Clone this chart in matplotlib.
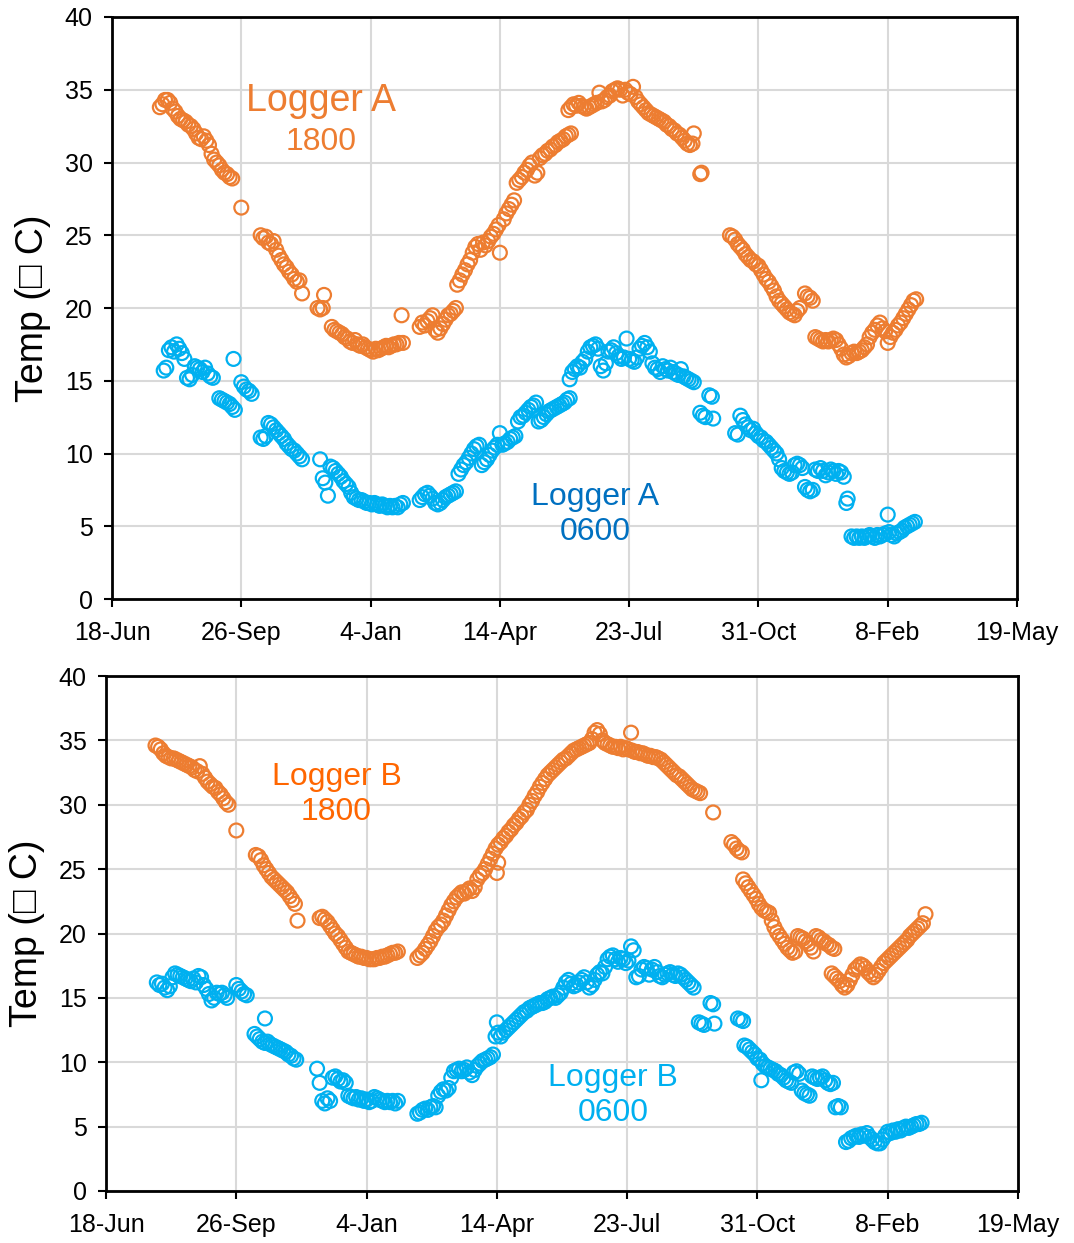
import matplotlib
matplotlib.use("Agg")
import matplotlib.pyplot as plt

plt.rcParams['font.family'] = ['Liberation Sans', 'DejaVu Sans']

# x axis: days after 18-Jun (ticks every 100 days)
tick_days = [0, 100, 200, 300, 400, 500, 600, 700]
tick_labels = ['18-Jun', '26-Sep', '4-Jan', '14-Apr', '23-Jul', '31-Oct', '8-Feb', '19-May']

# ---------------- Logger A, 1800 ----------------
a18_day = [37, 39, 41, 43, 45, 47, 49, 51, 53, 55, 57, 59, 61, 63, 65, 67, 69, 71, 73, 75, 77, 79, 81, 83, 85, 87, 89, 91, 93,
           100,
           115, 117, 119, 121, 123, 125, 127, 129, 131, 133, 135, 137, 139, 141, 143, 145, 147,
           159, 161, 163, 164,
           170, 172, 174, 176, 178, 180, 182, 184, 186, 188, 190, 192, 194, 196, 198, 200, 202, 204, 206, 208, 210,
           212, 214, 216, 218, 220, 222, 224, 225,
           238, 240, 242, 244, 246, 248, 250, 252, 254, 256, 258, 260, 262, 264, 266,
           267, 269, 271, 273, 275, 277, 279, 281, 283, 285, 287, 289, 291, 293, 295, 297, 299, 300, 303, 305, 307,
           309, 311,
           313, 315, 317, 319, 321, 323, 325, 327, 329, 331, 333, 335, 337, 339, 341, 343, 345, 347, 349, 351, 353, 355,
           353, 355, 357, 359, 361, 363, 365, 367, 369, 371, 373, 375, 377, 379, 381, 383, 385, 387, 389, 391, 393,
           395, 397, 399, 401, 403, 405, 407, 409, 411, 413, 415, 417, 419, 421, 423, 425, 427, 429, 431, 433, 435,
           437, 439, 441, 443, 445, 447, 449, 450, 455, 456,
           478, 480, 482, 484, 486, 488, 490, 492, 494, 496, 498, 500, 502, 504, 506, 508, 510, 512, 514, 516, 518,
           520, 522, 524, 526, 528, 530, 532, 536, 538, 540, 542,
           544, 546, 548, 550, 552, 554, 556, 558, 560, 562, 564, 566, 568, 570, 572, 574, 576, 578, 580, 582, 584,
           586, 588, 590, 592, 594, 596, 598, 600, 602, 604, 606, 608, 610, 612, 614, 616, 618, 620, 622]
a18_temp = [33.8, 34.0, 34.3, 34.3, 34.1, 33.7, 33.5, 33.2, 33.0, 32.9, 32.8, 32.6, 32.5, 32.3, 32.0, 31.7, 31.6, 31.8,
            31.5, 31.2, 30.6, 30.2, 30.0, 29.8, 29.5, 29.3, 29.2, 29.0, 28.9,
            26.9,
            25.0, 24.8, 24.9, 24.5, 24.4, 24.6, 24.0, 23.6, 23.3, 23.0, 22.8, 22.5, 22.3, 22.0, 21.8, 21.9, 21.0,
            20.0, 19.9, 20.0, 20.9,
            18.7, 18.5, 18.4, 18.3, 18.2, 18.0, 17.9, 17.7, 17.6, 17.8, 17.5, 17.4, 17.5, 17.3, 17.2, 17.1, 17.0, 17.2,
            17.1, 17.2, 17.3, 17.4, 17.3, 17.4, 17.5, 17.5, 17.6, 19.5, 17.6,
            18.7, 19.0, 18.8, 19.1, 19.3, 19.5, 18.5, 18.3, 18.6, 18.9, 19.2, 19.5, 19.6, 19.8, 20.0,
            21.6, 21.9, 22.3, 22.6, 23.0, 23.3, 23.8, 24.2, 24.4, 24.0, 24.5, 24.3, 24.6, 24.9, 25.1, 25.4, 25.7, 23.8,
            26.1, 26.5, 26.8, 27.1, 27.4,
            28.6, 28.8, 29.0, 29.3, 29.5, 29.8, 30.0, 29.1, 29.3, 30.3, 30.5, 30.6, 30.8, 30.9, 31.1, 31.2, 31.4, 31.5,
            31.6, 31.8, 31.9, 32.0,
            33.6, 33.8, 34.0, 33.9, 34.1, 33.9, 33.8, 33.7, 33.8, 33.9, 34.0, 34.1, 34.8, 34.2, 34.3, 34.5, 34.6, 34.9,
            35.0, 35.1, 35.0, 34.6, 35.0, 34.8, 34.7, 35.2, 34.5, 34.2, 34.0, 33.8, 33.6, 33.4, 33.3, 33.2, 33.1, 33.0,
            32.9, 32.8, 32.6, 32.5, 32.3, 32.2, 32.0, 31.9, 31.7, 31.5, 31.3, 31.2, 31.3, 32.0, 29.2, 29.3,
            25.0, 24.9, 24.7, 24.4, 24.2, 24.0, 23.7, 23.5, 23.3, 23.2, 23.0, 22.9, 22.6, 22.3, 22.0, 21.8, 21.5, 21.2,
            20.8, 20.5, 20.3, 20.1, 19.9, 19.7, 19.6, 19.5, 19.8, 20.0, 21.0, 20.8, 20.7, 20.5,
            18.0, 17.9, 17.8, 17.7, 17.8, 17.7, 17.8, 17.9, 17.8, 17.5, 17.2, 16.8, 16.6, 16.7, 16.9, 17.0, 16.9, 17.0,
            17.1, 17.3, 17.5, 18.0, 18.3, 18.5, 18.8, 19.0, 18.6, 18.4, 17.6, 18.0, 18.3, 18.5, 18.8, 19.0, 19.3, 19.6,
            19.9, 20.2, 20.5, 20.6]

# ---------------- Logger A, 0600 ----------------
a06_day = [40, 42, 44, 46, 48, 50, 52, 54, 56, 58, 60, 62, 64, 66, 68, 70, 72, 74, 76, 78,
           94,
           83, 85, 87, 89, 91, 93, 95,
           100, 102, 104, 106, 108,
           115, 117, 119, 121, 123, 125, 127, 129, 131, 133, 135, 137, 139, 141, 143, 145, 147,
           161, 163, 165, 167, 169, 171, 173, 175, 177, 179, 181, 183, 185, 187, 189, 191, 193, 195, 197, 199, 201,
           203, 205, 207, 209, 211, 213, 215, 217, 219, 221, 223, 225,
           238, 240, 242, 244, 246, 248, 250, 252, 254, 256, 258, 260, 262, 264, 266,
           268, 270, 272, 274, 276, 278, 280, 282, 284, 286, 288, 290, 292, 294, 296, 298, 300, 302, 304, 306, 308,
           310, 312,
           314, 316, 318, 320, 322, 324, 326, 328, 330, 332, 334, 336, 338, 340, 342, 344, 346, 348, 350, 352, 354,
           354, 356, 358, 360, 362, 364, 366, 368, 370, 372, 374, 376, 378, 380, 382, 384, 386, 388, 390, 392, 394,
           396, 398, 400, 402, 404, 406, 408, 410, 412, 414, 416, 418, 420, 422, 424, 426, 428, 430, 432, 434, 436,
           438, 440, 442, 444, 446, 448, 450,
           455, 457, 459, 462, 464, 465,
           482, 484, 486, 488, 490, 492, 494, 496, 498, 500, 502, 504, 506, 508, 510, 512, 514, 516, 518, 520, 522,
           524, 526, 528, 530, 532, 534, 536, 538, 540, 542, 544, 546, 548, 550, 552, 554, 556, 558, 560, 562, 564,
           566, 568, 569,
           572, 574, 576, 578, 580, 582, 584, 586, 588, 590, 592, 594, 596, 598, 600, 601, 603, 605, 607, 609, 611,
           613, 615, 617, 619, 621]
a06_temp = [15.7, 15.9, 17.1, 17.3, 17.0, 17.5, 17.2, 16.9, 16.5, 15.2, 15.1, 15.4, 16.0, 15.9, 15.8, 15.6, 15.9, 15.5,
            15.3, 15.2,
            16.5,
            13.8, 13.7, 13.6, 13.5, 13.4, 13.2, 13.0,
            14.9, 14.6, 14.4, 14.3, 14.1,
            11.1, 11.0, 11.2, 12.1, 12.0, 11.8, 11.6, 11.4, 11.2, 11.0, 10.7, 10.5, 10.3, 10.2, 10.0, 9.8, 9.6,
            9.6, 8.3, 8.0, 7.1, 9.1, 9.0, 8.8, 8.6, 8.4, 8.1, 7.9, 7.7, 7.3, 7.0, 6.9, 6.8, 6.8, 6.7, 6.6, 6.6, 6.5,
            6.6, 6.5, 6.4, 6.5, 6.4, 6.3, 6.4, 6.3, 6.4, 6.3, 6.5, 6.6,
            6.8, 7.0, 7.2, 7.3, 7.1, 6.9, 6.6, 6.5, 6.6, 6.8, 7.0, 7.1, 7.2, 7.3, 7.4,
            8.6, 8.9, 9.2, 9.4, 9.7, 10.0, 10.3, 10.5, 10.6, 9.2, 9.4, 9.6, 9.9, 10.2, 10.4, 10.6, 11.4, 10.6, 10.7,
            10.8, 11.0, 11.1, 11.2,
            12.2, 12.5, 12.6, 12.8, 13.0, 13.2, 13.3, 13.5, 12.2, 12.3, 12.5, 12.7, 12.9, 13.0, 13.1, 13.2, 13.3, 13.4,
            13.5, 13.7, 13.8,
            15.1, 15.6, 15.8, 16.0, 15.9, 16.3, 16.5, 17.0, 17.3, 17.4, 17.5, 17.2, 16.0, 15.7, 16.2, 17.0, 17.1, 17.3,
            16.9, 16.7, 16.5, 16.6, 17.9, 16.5, 16.4, 16.3, 16.6, 17.2, 17.4, 17.6, 17.3, 17.0, 16.2, 15.9, 15.8, 15.6,
            16.0, 15.8, 15.7, 15.9, 15.6, 15.5, 15.4, 15.8, 15.3, 15.2, 15.1, 15.0, 14.9,
            12.8, 12.6, 12.5, 14.0, 13.9, 12.4,
            11.4, 11.3, 12.6, 12.3, 12.0, 11.8, 11.6, 11.7, 11.4, 11.2, 11.1, 10.9, 10.8, 10.6, 10.4, 10.2, 10.0, 9.6,
            9.0, 8.8, 8.7, 8.6, 8.7, 9.2, 9.3, 9.2, 9.0, 7.7, 7.5, 7.4, 7.5, 8.9, 8.8, 9.0, 8.8, 8.5, 8.7, 8.9, 8.8,
            8.6, 8.8, 8.7, 8.4, 6.6, 6.9,
            4.3, 4.2, 4.3, 4.2, 4.3, 4.2, 4.3, 4.4, 4.3, 4.2, 4.4, 4.3, 4.4, 4.5, 5.8, 4.6, 4.4, 4.3, 4.5, 4.6, 4.7,
            4.9, 5.0, 5.1, 5.2, 5.3]

# ---------------- Logger B, 1800 ----------------
b18_day = [38, 40, 42, 44, 46, 48, 50, 52, 54, 56, 58, 60, 62, 64, 66, 68, 70, 72, 74, 76, 78, 80, 82, 84, 86, 88,
           90, 92, 94,
           100,
           115, 117, 119, 121, 123, 125, 127, 129, 131, 133, 135, 137, 139, 141, 143, 145, 147,
           164, 166, 168, 170, 172, 174, 176, 178, 180, 182, 184, 186, 188, 190, 192, 194, 196, 198, 200, 202, 204,
           206, 208, 210, 212, 214, 216, 218, 220, 222, 224,
           239, 241, 243, 245, 247, 249, 251, 253, 255, 257, 259, 261, 263, 265, 267, 269, 271, 273, 275, 277, 279,
           281, 283, 285, 287, 289, 291, 293, 295, 297, 300, 301,
           299, 301, 303, 305, 307, 309, 311, 313, 315, 317, 319, 321, 323, 325, 327, 329, 331, 333, 335, 337, 339,
           341, 343, 345, 347, 349, 351, 353, 355, 357, 359, 361, 363, 365, 367, 369, 371, 373, 375, 377, 379, 381,
           383, 385, 387, 389, 391, 393, 395, 397, 399, 401, 403,
           404, 406, 408, 410, 412, 414, 416, 418, 420, 422, 424, 426, 428, 430, 432, 434, 436, 438, 440, 442, 444,
           446, 448, 450, 452, 454, 456, 466,
           480, 482, 484, 486, 488,
           489, 491, 493, 495, 497, 499, 501, 503, 505, 507, 509, 511, 513, 515, 517, 519, 521, 523, 525, 527, 529,
           531, 533, 535, 537, 539, 541, 543, 545, 547, 549, 551, 553, 555, 557, 559,
           557, 559, 561, 563, 565, 567, 569, 571, 573, 575, 577, 579, 581, 583, 585, 587, 589, 591, 593, 595, 597,
           599, 601, 603, 605, 607, 609, 611, 613, 615, 617, 619, 621, 623, 625, 627, 629]
b18_temp = [34.6, 34.5, 34.3, 34.0, 33.8, 33.7, 33.6, 33.6, 33.5, 33.4, 33.3, 33.2, 33.1, 33.0, 32.9, 32.7, 32.6,
            33.0, 32.4, 32.1, 31.8, 31.6, 31.4, 31.3, 31.0, 30.8, 30.5, 30.2, 30.0,
            28.0,
            26.1, 26.0, 25.7, 25.3, 25.0, 24.7, 24.4, 24.2, 24.0, 23.8, 23.6, 23.4, 23.2, 22.9, 22.6, 22.3, 21.0,
            21.2, 21.3, 21.1, 20.9, 20.6, 20.3, 20.0, 19.8, 19.5, 19.2, 18.9, 18.6, 18.5, 18.4, 18.3, 18.2, 18.2, 18.1,
            18.1, 18.0, 18.0, 18.0, 18.1, 18.1, 18.2, 18.2, 18.3, 18.4, 18.5, 18.5, 18.6,
            18.1, 18.3, 18.5, 18.8, 19.1, 19.4, 19.8, 20.2, 20.5, 20.7, 21.0, 21.4, 21.8, 22.2, 22.5, 22.8, 23.0, 23.2,
            23.1, 23.3, 23.5, 23.3, 23.6, 24.2, 24.5, 24.7, 25.0, 25.4, 25.8, 26.2, 24.7, 25.5,
            26.6, 26.9, 27.1, 27.4, 27.6, 27.9, 28.1, 28.4, 28.6, 28.9, 29.1, 29.4, 29.6, 30.0, 30.3, 30.7, 31.0, 31.4,
            31.7, 32.0, 32.3, 32.5, 32.7, 32.9, 33.1, 33.3, 33.5, 33.6, 33.8, 34.0, 34.2, 34.3, 34.4, 34.5, 34.6, 34.7,
            34.8, 35.1, 35.6, 35.8, 35.5, 35.0, 34.8, 34.7, 34.6, 34.5, 34.5, 34.4, 34.5, 34.3, 34.4, 34.3, 35.6,
            34.2, 34.1, 34.1, 34.0, 34.0, 33.9, 33.8, 33.8, 33.7, 33.7, 33.6, 33.5, 33.3, 33.1, 32.9, 32.7, 32.5, 32.3,
            32.2, 32.0, 31.8, 31.6, 31.4, 31.2, 31.1, 31.0, 30.9, 29.4,
            27.1, 26.9, 26.6, 26.4, 26.3,
            24.2, 23.9, 23.6, 23.3, 23.0, 22.7, 22.3, 22.0, 21.8, 21.7, 21.6, 21.0, 20.5, 20.1, 19.8, 19.5, 19.2, 18.9,
            18.7, 18.5, 18.6, 19.8, 19.7, 19.6, 19.4, 19.2, 18.9, 18.6, 19.8, 19.7, 19.5, 19.4, 19.2, 19.1, 18.9, 18.8,
            16.9, 16.7, 16.5, 16.3, 16.0, 15.8, 16.0, 16.4, 16.8, 17.2, 17.4, 17.6, 17.5, 17.3, 17.0, 16.8, 16.6, 16.8,
            17.1, 17.4, 17.7, 17.9, 18.1, 18.3, 18.5, 18.7, 18.9, 19.1, 19.3, 19.5, 19.8, 20.0, 20.2, 20.4, 20.6, 20.8,
            21.5]

# ---------------- Logger B, 0600 ----------------
b06_day = [39, 41, 43, 45, 47, 49, 51, 53, 55, 57, 59, 61, 63, 65, 67, 69, 71, 73, 75, 77, 79, 81, 83, 85, 87, 89,
           91, 93,
           100, 102, 104, 106, 108,
           122,
           114, 116, 118, 120, 122, 124, 126, 128, 130, 132, 134, 136, 138, 140, 142, 144, 146,
           162, 164, 166, 168, 170, 172, 174, 176, 178, 180, 182, 184, 186, 188, 190, 192, 194, 196, 198, 200, 202,
           204, 206, 208, 210, 212, 214, 216, 218, 220, 222, 224,
           239, 241, 243, 245, 247, 249, 251, 253, 255, 257, 259, 261, 263, 265, 267, 269, 271, 273, 275, 277, 279,
           281, 283, 285, 287, 289, 291, 293, 295, 297, 299, 300, 301, 303, 305, 307, 309, 311, 313, 315, 317, 319,
           321, 323, 325, 327, 329, 331, 333, 335, 337, 339, 341, 343, 345, 347, 349, 351, 353, 355, 357, 359, 361,
           363, 365, 367, 369, 371, 373, 375, 377, 379, 381, 383, 385, 387, 389, 391, 393, 395, 397, 399, 401, 403,
           405, 407, 409, 411, 413, 415, 417, 419, 421, 423, 425, 427, 429, 431, 433, 435, 437, 439, 441, 443, 445,
           447, 449, 451,
           455, 457, 459, 464, 466, 467,
           485, 487, 489, 490, 492, 494, 496, 498, 500, 502, 503, 504, 506, 508, 510, 512, 514, 516, 518, 520, 522,
           524, 526, 528, 530, 532, 534, 536, 538, 540, 542, 544, 546, 548, 550, 552, 554, 556, 558, 560, 562, 564,
           568, 570, 572, 574, 576, 578, 580, 582, 584, 586, 588, 590, 592, 594, 596, 598, 600, 602, 604, 606, 608,
           610, 612, 614, 616, 618, 620, 622, 624, 626]
b06_temp = [16.2, 16.0, 16.1, 15.8, 15.6, 15.9, 16.6, 16.9, 16.8, 16.7, 16.6, 16.5, 16.4, 16.3, 16.5, 16.2, 16.7, 16.6,
            16.0, 15.7, 15.3, 14.8, 15.0, 15.4, 15.3, 15.4, 15.2, 15.0,
            16.0, 15.7, 15.5, 15.3, 15.2,
            13.4,
            12.2, 12.0, 11.8, 11.6, 11.5, 11.6, 11.4, 11.3, 11.2, 11.1, 11.0, 10.9, 10.8, 10.6, 10.5, 10.3, 10.2,
            9.5, 8.4, 7.0, 6.8, 7.2, 7.0, 8.8, 8.9, 8.7, 8.5, 8.6, 8.4, 7.4, 7.3, 7.2, 7.3, 7.1, 7.2, 7.0, 7.1, 6.9,
            7.0, 7.3, 7.2, 7.1, 7.0, 6.9, 7.0, 6.9, 7.0, 6.8, 7.0,
            6.0, 6.1, 6.3, 6.4, 6.3, 6.5, 6.6, 6.5, 7.4, 7.7, 7.9, 7.8, 8.0, 8.8, 9.3, 9.4, 9.5, 9.3, 9.4, 9.6, 9.2,
            9.0, 9.4, 9.7, 9.9, 10.1, 10.2, 10.3, 10.4, 10.6, 12.0, 13.1, 12.3, 12.0, 12.3, 12.5, 12.7, 12.9, 13.1,
            13.3, 13.5, 13.7, 13.9, 14.0, 14.2, 14.3, 14.4, 14.5, 14.6, 14.6, 14.7, 14.9, 15.0, 15.1, 15.0, 15.2,
            15.4, 15.8, 16.2, 16.4, 16.1, 15.9, 16.0, 16.2, 16.4, 16.6, 16.2, 15.8, 16.0, 16.4, 16.8, 17.0, 16.9,
            17.4, 18.0, 18.2, 18.3, 18.0, 17.8, 18.1, 18.0, 17.7, 17.9, 19.0, 18.7, 16.6, 16.7, 17.2, 17.4, 17.3,
            16.8, 17.2, 17.4, 17.0, 16.7, 16.6, 16.8, 16.9, 17.0, 16.8, 16.7, 16.9, 16.8, 16.6, 16.4, 16.2, 16.0, 15.8,
            13.1, 13.0, 12.9, 14.6, 14.5, 13.0,
            13.4, 13.3, 13.2, 11.3, 11.2, 11.0, 10.8, 10.6, 10.3, 10.2, 8.6, 9.9, 9.7, 9.6, 9.5, 9.4, 9.3, 9.1, 9.0,
            8.8, 8.6, 8.5, 8.4, 9.2, 9.3, 9.1, 7.8, 7.6, 7.5, 7.4, 8.9, 8.8, 8.7, 8.8, 8.9, 8.6, 8.4, 8.3, 8.4, 6.5,
            6.6, 6.5,
            3.8, 3.9, 4.1, 4.2, 4.3, 4.2, 4.4, 4.3, 4.5, 4.2, 4.0, 3.8, 3.7, 3.7, 4.0, 4.3, 4.6, 4.5, 4.7, 4.6, 4.8,
            4.7, 4.9, 5.0, 4.9, 5.0, 5.1, 5.2, 5.2, 5.3]

ORANGE = '#ED7D31'
BLUE = '#00B0F0'

fig = plt.figure(figsize=(10.74, 12.43), dpi=100)
ax1 = fig.add_axes([112 / 1074, 1 - 599 / 1243, 905 / 1074, 582 / 1243])
ax2 = fig.add_axes([106 / 1074, 1 - 1191 / 1243, 912 / 1074, 515 / 1243])


def style(ax):
    ax.set_xlim(0, 700)
    ax.set_ylim(0, 40)
    ax.set_xticks(tick_days)
    ax.set_xticklabels(tick_labels)
    ax.set_yticks(range(0, 41, 5))
    ax.grid(True, color='#D9D9D9', linewidth=1.5)
    ax.set_axisbelow(True)
    for s in ax.spines.values():
        s.set_linewidth(2)
        s.set_color('black')
    ax.tick_params(axis='x', labelsize=18, length=6, width=1.5, direction='out', pad=10)
    ax.tick_params(axis='y', labelsize=18, length=6, width=1.5, direction='out', pad=8)
    ax.set_ylabel('Temp (\u25a1 C)', fontsize=27, labelpad=10,
                  family=['Liberation Sans', 'DejaVu Sans'])


mk = dict(s=100, facecolors='none', linewidths=1.6, zorder=3)

ax1.scatter(a18_day, a18_temp, edgecolors=ORANGE, **mk)
ax1.scatter(a06_day, a06_temp, edgecolors=BLUE, **mk)
ax2.scatter(b18_day, b18_temp, edgecolors=ORANGE, **mk)
ax2.scatter(b06_day, b06_temp, edgecolors=BLUE, **mk)

style(ax1)
style(ax2)

ax1.text(162, 34.2, 'Logger A', color=ORANGE, fontsize=27, ha='center', va='center')
ax1.text(162, 31.4, '1800', color=ORANGE, fontsize=23, ha='center', va='center')
ax1.text(374, 5.8, 'Logger A\n0600', color='#0070C0', fontsize=23, ha='center', va='center', linespacing=1.2)
ax2.text(177, 30.8, 'Logger B\n1800', color='#FF6600', fontsize=23, ha='center', va='center', linespacing=1.2)
ax2.text(389, 7.4, 'Logger B\n0600', color=BLUE, fontsize=23, ha='center', va='center', linespacing=1.2)

fig.savefig('out.png', dpi=100)
